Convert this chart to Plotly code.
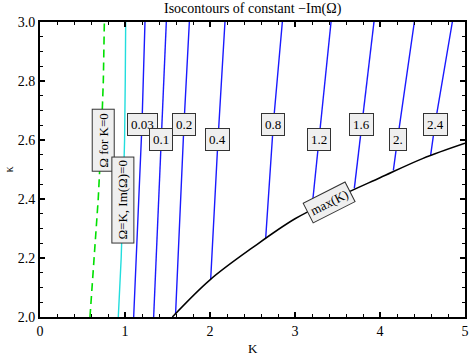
import plotly.graph_objects as go

# ---- data ----
kappa_grid = [2.0, 2.2, 2.4, 2.6, 2.8, 3.0]
omega_k0_K = [0.588, 0.640, 0.685, 0.720, 0.745, 0.757]      # green dashed
omega_eq_K = [0.921, 0.955, 0.977, 0.995, 1.003, 1.008]       # cyan

max_K = [1.557, 2.0, 2.5, 3.0, 3.5, 4.0, 4.5, 5.0]
max_kappa = [2.0, 2.126, 2.235, 2.333, 2.406, 2.472, 2.537, 2.589]

levels = ["0.03", "0.1", "0.2", "0.4", "0.8", "1.2", "1.6", "2.", "2.4"]
lvl_K_bottom = [1.102, 1.337, 1.595, 2.008, 2.655, 3.197, 3.698, 4.157, 4.596]
lvl_kappa_bottom = [2.0, 2.0, 2.01, 2.128, 2.267, 2.362, 2.436, 2.497, 2.549]
lvl_K_label = [1.200, 1.429, 1.694, 2.094, 2.745, 3.282, 3.788, 4.206, 4.647]
lvl_kappa_label = [2.654, 2.601, 2.654, 2.601, 2.654, 2.601, 2.654, 2.601, 2.654]
lvl_K_top = [1.235, 1.486, 1.757, 2.176, 2.851, 3.424, 3.929, 4.404, 4.851]
kappa_top = 3.0

x_ticks = [0, 1, 2, 3, 4, 5]
y_ticks = [2.0, 2.2, 2.4, 2.6, 2.8, 3.0]

SERIF = "Liberation Serif, serif"

fig = go.Figure()

fig.add_trace(go.Scatter(x=omega_k0_K, y=kappa_grid, mode="lines",
                         line=dict(color="#00e000", width=1.6, dash="8px,5px"),
                         hoverinfo="skip"))
fig.add_trace(go.Scatter(x=omega_eq_K, y=kappa_grid, mode="lines",
                         line=dict(color="#22dddd", width=1.4), hoverinfo="skip"))

for i in range(len(levels)):
    fig.add_trace(go.Scatter(
        x=[lvl_K_bottom[i], lvl_K_label[i], lvl_K_top[i]],
        y=[lvl_kappa_bottom[i], lvl_kappa_label[i], kappa_top],
        mode="lines", line=dict(color="#1a1aff", width=1.4), hoverinfo="skip"))

fig.add_trace(go.Scatter(x=max_K, y=max_kappa, mode="lines",
                         line=dict(color="black", width=1.5, shape="spline"),
                         hoverinfo="skip"))

box = dict(bgcolor="#efefef", bordercolor="#333333", borderwidth=1, borderpad=3,
           showarrow=False, font=dict(family=SERIF, size=13, color="black"),
           xref="x", yref="y")

for i in range(len(levels)):
    fig.add_annotation(x=lvl_K_label[i], y=lvl_kappa_label[i], text=levels[i], **box)

fig.add_annotation(x=0.738, y=2.6, text="Ω for K=0", textangle=-90, **box)
fig.add_annotation(x=0.976, y=2.398, text="Ω=K, Im(Ω)=0", textangle=-90, **box)
fig.add_annotation(x=3.4, y=2.389, text="max(K)", textangle=-27, **box)

# axis titles and plot title placed in paper coordinates
fig.add_annotation(x=0.5, y=-0.108, xref="paper", yref="paper", yanchor="middle",
                   text="K", showarrow=False,
                   font=dict(family=SERIF, size=13, color="black"))
fig.add_annotation(x=-0.073, y=0.5, xref="paper", yref="paper", xanchor="center",
                   text="κ", showarrow=False, textangle=-90,
                   font=dict(family=SERIF, size=12, color="black"))
fig.add_annotation(x=0.5, y=1.0, xref="paper", yref="paper", yanchor="bottom",
                   yshift=3, text="Isocontours of constant −Im(Ω)", showarrow=False,
                   font=dict(family=SERIF, size=14, color="black"))

axis_common = dict(showgrid=False, zeroline=False, showline=True, linecolor="black",
                   linewidth=2, mirror="allticks", ticks="inside", ticklen=5,
                   tickwidth=1.5, tickcolor="black", automargin=False,
                   tickfont=dict(family=SERIF, size=14, color="black"))

fig.update_xaxes(range=[0, 5], tickvals=x_ticks, ticktext=[str(v) for v in x_ticks],
                 minor=dict(dtick=0.2, ticks="inside", ticklen=3, tickcolor="black", tickwidth=1),
                 **axis_common)
fig.update_yaxes(range=[2.0, 3.0], tickvals=y_ticks, ticktext=[f"{v:.1f}" for v in y_ticks],
                 minor=dict(dtick=0.05, ticks="inside", ticklen=3, tickcolor="black", tickwidth=1),
                 **axis_common)

fig.update_layout(
    width=469, height=357,
    margin=dict(l=40, r=4, t=22, b=40),
    paper_bgcolor="white", plot_bgcolor="white",
    showlegend=False,
    font=dict(family=SERIF, size=13, color="black"),
)

fig.write_html("out.html", config={"displayModeBar": False},
               post_script="document.body.style.margin='0';document.body.style.overflow='hidden';")
